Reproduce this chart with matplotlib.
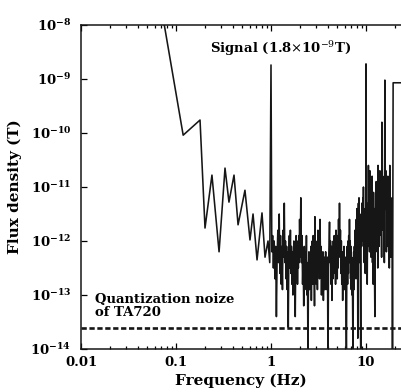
import numpy as np
import matplotlib
matplotlib.use("Agg")
import matplotlib.pyplot as plt
from matplotlib.ticker import FixedLocator, LogLocator, NullLocator, NullFormatter

plt.rcParams['font.family'] = ['DejaVu Serif']
plt.rcParams['mathtext.fontset'] = 'dejavuserif'

# spectrum: (frequency in Hz, log10 of flux density in T)
below_1hz = [(0.072, -7.8), (0.119, -10.04), (0.179, -9.76), (0.202, -11.76), (0.239, -10.78),
             (0.284, -12.2), (0.328, -10.65), (0.361, -11.28), (0.408, -10.78), (0.450, -11.7),
             (0.532, -11.06), (0.601, -11.98), (0.647, -11.5), (0.713, -12.35), (0.804, -11.48),
             (0.865, -12.3), (0.93, -12.0), (0.97, -12.4)]

band_1_2hz = [(1.00, -8.74), (1.02, -12.2), (1.04, -11.9), (1.06, -12.5), (1.08, -12.0),
              (1.10, -12.7), (1.12, -12.1), (1.14, -13.4), (1.16, -12.3), (1.18, -11.8),
              (1.20, -12.4), (1.22, -11.5), (1.24, -12.6), (1.26, -11.9), (1.28, -12.8),
              (1.30, -12.1), (1.32, -12.9), (1.34, -11.8), (1.36, -12.3), (1.38, -11.3),
              (1.40, -12.4), (1.42, -12.0), (1.44, -12.7), (1.46, -12.1), (1.48, -12.9),
              (1.50, -12.2), (1.52, -13.6), (1.54, -12.3), (1.56, -11.9), (1.58, -12.5),
              (1.60, -11.8), (1.62, -12.6), (1.64, -12.1), (1.66, -12.8), (1.68, -12.2),
              (1.70, -13.0), (1.72, -12.3), (1.74, -12.0), (1.76, -12.7), (1.78, -12.2),
              (1.80, -13.4), (1.82, -12.4), (1.84, -11.9), (1.86, -12.6), (1.88, -12.0),
              (1.90, -12.8), (1.92, -12.2), (1.94, -12.5), (1.96, -11.9), (1.98, -12.4)]

band_2_4hz = [(2.00, -11.6), (2.03, -12.3), (2.06, -11.2), (2.09, -12.4), (2.12, -11.9),
              (2.15, -12.8), (2.18, -12.3), (2.21, -13.2), (2.24, -12.1), (2.27, -12.9),
              (2.30, -12.2), (2.33, -12.7), (2.36, -11.9), (2.39, -13.0), (2.42, -12.4),
              (2.45, -14.3), (2.48, -12.6), (2.51, -12.2), (2.54, -12.9), (2.57, -12.3),
              (2.60, -12.7), (2.63, -12.1), (2.66, -13.1), (2.69, -12.4), (2.72, -12.0),
              (2.75, -12.8), (2.78, -11.9), (2.81, -12.6), (2.84, -12.2), (2.87, -13.2),
              (2.90, -11.55), (2.93, -12.4), (2.96, -12.0), (3.00, -12.8), (3.04, -12.1),
              (3.08, -12.9), (3.12, -11.8), (3.16, -12.5), (3.20, -12.0), (3.24, -12.7),
              (3.28, -11.6), (3.32, -12.4), (3.36, -12.1), (3.40, -13.0), (3.44, -12.3),
              (3.48, -12.8), (3.52, -12.2), (3.56, -13.1), (3.60, -12.4), (3.64, -12.9),
              (3.68, -12.3), (3.72, -12.7), (3.76, -12.2), (3.80, -12.9), (3.84, -12.4),
              (3.88, -12.6), (3.93, -12.3), (3.98, -14.3)]

band_4_7hz = [(4.03, -12.5), (4.08, -12.1), (4.13, -11.65), (4.18, -12.4), (4.23, -12.0),
              (4.28, -12.8), (4.33, -12.1), (4.38, -13.1), (4.43, -12.2), (4.48, -12.7),
              (4.53, -12.0), (4.58, -12.6), (4.63, -11.9), (4.68, -12.5), (4.73, -12.1),
              (4.78, -12.8), (4.83, -11.8), (4.88, -12.4), (4.93, -12.0), (4.98, -12.7),
              (5.03, -11.9), (5.08, -12.5), (5.14, -11.6), (5.20, -12.3), (5.26, -11.3),
              (5.32, -12.2), (5.38, -11.8), (5.44, -12.6), (5.50, -12.0), (5.56, -12.8),
              (5.62, -12.2), (5.68, -13.1), (5.74, -12.3), (5.80, -12.7), (5.86, -12.1),
              (5.92, -12.9), (5.98, -12.4), (6.04, -12.8), (6.10, -12.3), (6.16, -13.2),
              (6.22, -14.3), (6.28, -12.5), (6.34, -12.1), (6.40, -12.8), (6.46, -12.0),
              (6.52, -12.6), (6.58, -11.9), (6.64, -12.4), (6.70, -11.6), (6.76, -12.3),
              (6.82, -12.0), (6.88, -12.7), (6.94, -12.1)]

band_7_10hz = [(7.00, -12.9), (7.06, -12.3), (7.12, -13.0), (7.18, -12.4), (7.24, -13.3),
               (7.30, -14.3), (7.36, -12.6), (7.42, -12.2), (7.48, -12.9), (7.54, -12.1),
               (7.60, -12.6), (7.66, -11.8), (7.72, -12.4), (7.78, -11.9), (7.84, -12.7),
               (7.90, -11.6), (7.96, -12.3), (8.02, -11.4), (8.08, -12.2), (8.14, -11.7),
               (8.20, -13.8), (8.26, -11.9), (8.32, -11.3), (8.38, -12.1), (8.44, -11.2),
               (8.50, -12.0), (8.56, -11.5), (8.62, -12.4), (8.68, -11.8), (8.74, -13.2),
               (8.80, -14.3), (8.86, -12.2), (8.92, -11.5), (8.98, -12.1), (9.04, -11.3),
               (9.10, -11.9), (9.16, -11.4), (9.22, -12.0), (9.28, -11.2), (9.34, -11.8),
               (9.40, -11.0), (9.46, -12.1), (9.52, -11.4), (9.58, -12.4), (9.64, -11.6),
               (9.70, -12.2), (9.76, -11.5), (9.82, -12.6), (9.88, -11.7), (9.94, -12.0)]

band_10_30hz = [(10.0, -8.72), (10.06, -11.6), (10.12, -12.2), (10.2, -11.3), (10.3, -12.8),
                (10.4, -11.5), (10.5, -12.1), (10.6, -10.6), (10.7, -11.8), (10.8, -11.2),
                (10.9, -12.2), (11.0, -10.7), (11.1, -11.7), (11.2, -11.1), (11.3, -12.3),
                (11.4, -11.3), (11.5, -11.9), (11.6, -10.8), (11.7, -12.4), (11.8, -11.5),
                (11.9, -12.8), (12.0, -11.1), (12.1, -11.9), (12.2, -11.4), (12.3, -12.7),
                (12.4, -13.4), (12.5, -12.1), (12.6, -11.5), (12.7, -12.2), (12.8, -10.9),
                (12.9, -11.8), (13.0, -11.3), (13.1, -12.0), (13.2, -11.1), (13.3, -12.5),
                (13.4, -10.6), (13.5, -11.6), (13.6, -11.2), (13.7, -12.1), (13.8, -11.4),
                (13.9, -11.9), (14.0, -10.7), (14.2, -11.7), (14.4, -11.2), (14.6, -12.3),
                (14.7, -9.8), (14.8, -11.5), (15.0, -10.8), (15.2, -11.8), (15.4, -11.2),
                (15.6, -12.4), (15.8, -9.02), (16.0, -11.4), (16.2, -10.7), (16.4, -12.2),
                (16.6, -11.3), (16.8, -12.1), (17.0, -10.8), (17.2, -11.8), (17.4, -11.3),
                (17.6, -12.5), (17.8, -10.6), (18.0, -11.7), (18.2, -12.3), (18.4, -11.4),
                (18.6, -12.0), (18.8, -11.2), (19.0, -14.3), (19.3, -9.07), (30.0, -9.07)]

quant_noise = 2.45e-14
x_ticks = [0.01, 0.1, 1, 10]
x_labels = ["0.01", "0.1", "1", "10"]

spectrum = below_1hz + band_1_2hz + band_2_4hz + band_4_7hz + band_7_10hz + band_10_30hz
freq = [p[0] for p in spectrum]
flux = [10.0 ** p[1] for p in spectrum]

fig = plt.figure(figsize=(4.02, 3.92), dpi=100)
# axes runs past the right edge, as in the cropped scan
ax = fig.add_axes([81 / 402, 43 / 392, 380 / 402, 324 / 392])

ax.plot(freq, flux, color="#161616", lw=1.15)
ax.axhline(quant_noise, color="#161616", lw=1.9, ls=(0, (2, 1)))

ax.set_xscale("log")
ax.set_yscale("log")
ax.set_xlim(0.01, 100)
ax.set_ylim(1e-14, 1e-8)

ax.xaxis.set_major_locator(FixedLocator(x_ticks))
ax.set_xticklabels(x_labels)
ax.xaxis.set_minor_locator(LogLocator(base=10, subs=np.arange(2, 10)))
ax.xaxis.set_minor_formatter(NullFormatter())
ax.yaxis.set_major_locator(LogLocator(base=10, numticks=10))
ax.yaxis.set_minor_locator(NullLocator())

ax.tick_params(which="both", direction="in", top=True, right=False,
               labelsize=9.5, width=0.9)
ax.tick_params(which="major", length=4)
ax.tick_params(which="minor", length=2)
ax.tick_params(axis="x", pad=5)
ax.tick_params(axis="y", pad=7)
for lab in ax.get_xticklabels() + ax.get_yticklabels():
    lab.set_fontweight("bold")
for s in ax.spines.values():
    s.set_linewidth(1.1)
    s.set_color("#161616")

ax.set_xlabel("Frequency (Hz)", fontsize=11, fontweight="bold")
ax.xaxis.set_label_coords(0.421, -0.075)
ax.set_ylabel("Flux density (T)", fontsize=11, fontweight="bold", labelpad=6)

ax.text(1.27, 10 ** -8.43, r"Signal (1.8$\times$10$^{-9}$T)", ha="center", va="center",
        fontsize=9.5, fontweight="bold")
ax.text(0.014, 10 ** -13.2, "Quantization noize\nof TA720", ha="left", va="center",
        fontsize=9.5, fontweight="bold", linespacing=1.0)

fig.savefig("out.png", dpi=100)
